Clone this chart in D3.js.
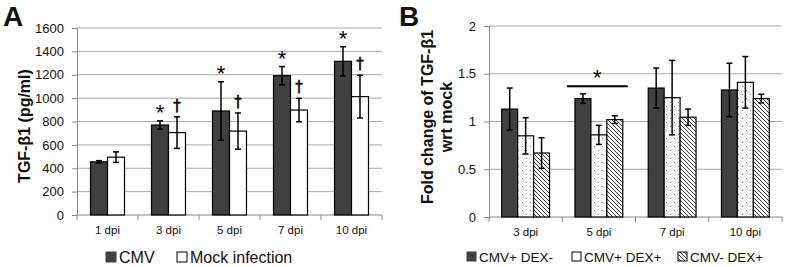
<!DOCTYPE html>
<html lang="en">
<head>
<meta charset="utf-8">
<title>TGF-b1 panels</title>
<script src="https://cdn.jsdelivr.net/npm/d3@7"></script>
<style>
  body { margin: 0; background: #fff; }
  svg text { font-family: "Liberation Sans", Arial, sans-serif; fill: #111; }
</style>
</head>
<body>
<script>
// ---- data, panel A (pg/ml) ----
var daysA = ["1 dpi", "3 dpi", "5 dpi", "7 dpi", "10 dpi"];
var seriesA = ["CMV", "Mock infection"];
var cmvA = [455, 770, 890, 1192, 1315];
var cmvErrA = [10, 35, 250, 78, 125];
var mockA = [495, 705, 718, 898, 1013];
var mockErrA = [45, 135, 155, 100, 183];
var markA = [["", ""], ["*", "†"], ["*", "†"], ["*", "†"], ["*", "†"]];
var ticksA = [0, 200, 400, 600, 800, 1000, 1200, 1400, 1600];

// ---- data, panel B (fold change) ----
var daysB = ["3 dpi", "5 dpi", "7 dpi", "10 dpi"];
var seriesB = ["CMV+ DEX-", "CMV+ DEX+", "CMV- DEX+"];
var cmvNoDexB = [1.13, 1.24, 1.35, 1.33];
var cmvNoDexErrB = [0.22, 0.05, 0.21, 0.28];
var cmvDexB = [0.85, 0.86, 1.25, 1.41];
var cmvDexErrB = [0.19, 0.10, 0.39, 0.27];
var mockDexB = [0.67, 1.02, 1.045, 1.24];
var mockDexErrB = [0.16, 0.04, 0.085, 0.045];
var ticksB = [0, 0.5, 1, 1.5, 2];

var w = 787, h = 267;
var svg = d3.select("body").append("svg").attr("width", w).attr("height", h);

// patterns
var defs = svg.append("defs");
var dots = defs.append("pattern").attr("id", "dots")
  .attr("patternUnits", "userSpaceOnUse").attr("width", 8).attr("height", 8);
dots.append("rect").attr("width", 8).attr("height", 8).attr("fill", "#fff");
dots.append("rect").attr("x", 2).attr("y", 2).attr("width", 1).attr("height", 1).attr("fill", "#777");
dots.append("rect").attr("x", 6).attr("y", 6).attr("width", 1).attr("height", 1).attr("fill", "#777");
var hatch = defs.append("pattern").attr("id", "hatch")
  .attr("patternUnits", "userSpaceOnUse").attr("width", 4).attr("height", 4);
hatch.append("rect").attr("width", 4).attr("height", 4).attr("fill", "#fff");
hatch.append("path").attr("d", "M-1,-1 L5,5 M-1,3 L1,5 M3,-1 L5,1")
  .attr("stroke", "#222").attr("stroke-width", 0.9);

var dark = "#404040";

function panel(opt) {
  var g = svg.append("g");
  var x = d3.scaleBand().domain(opt.days).range([opt.left, opt.right])
    .paddingInner(opt.pad).paddingOuter(opt.pad / 2);
  var xs = d3.scaleBand().domain(d3.range(opt.series.length)).range([0, x.bandwidth()]);
  var y = d3.scaleLinear().domain(opt.domain).range([opt.bottom, opt.top]);

  // grid
  g.selectAll(".grid").data(opt.ticks.slice(1)).enter().append("line")
    .attr("x1", opt.left).attr("x2", opt.right)
    .attr("y1", function(d) { return y(d); }).attr("y2", function(d) { return y(d); })
    .attr("stroke", "#a8a8a8").attr("stroke-width", 1);

  // y axis
  var yAxis = d3.axisLeft(y).tickValues(opt.ticks).tickSize(5).tickPadding(8).tickFormat(opt.fmt);
  var ya = g.append("g").attr("transform", "translate(" + opt.left + ",0)").call(yAxis);
  ya.selectAll("path, line").attr("stroke", "#888");
  ya.selectAll("text").style("font-size", "13px").style("font-family", "Liberation Sans, Arial, sans-serif").attr("fill", "#111");

  // x axis line and boundary ticks
  g.append("line").attr("x1", opt.left).attr("x2", opt.right)
    .attr("y1", opt.bottom).attr("y2", opt.bottom).attr("stroke", "#888");
  var step = x.step();
  var bounds = opt.days.map(function(d) { return x(d) - step * opt.pad / 2; });
  bounds.push(opt.right);
  g.selectAll(".xt").data(bounds).enter().append("line")
    .attr("x1", function(d) { return d; }).attr("x2", function(d) { return d; })
    .attr("y1", opt.bottom).attr("y2", opt.bottom + 5).attr("stroke", "#888");
  g.selectAll(".xl").data(opt.days).enter().append("text")
    .attr("x", function(d) { return x(d) + x.bandwidth() / 2; })
    .attr("y", opt.bottom + 19)
    .attr("text-anchor", "middle").style("font-size", "11.5px")
    .text(function(d) { return d; });

  // bars
  opt.values.forEach(function(vals, s) {
    g.selectAll(".bar" + s).data(opt.days).enter().append("rect")
      .attr("x", function(d) { return x(d) + xs(s); })
      .attr("y", function(d, i) { return y(vals[i]); })
      .attr("width", xs.bandwidth())
      .attr("height", function(d, i) { return opt.bottom - y(vals[i]); })
      .attr("fill", opt.fills[s]).attr("stroke", "#000").attr("stroke-width", 1.2);
  });

  // error bars
  opt.values.forEach(function(vals, s) {
    var errs = opt.errs[s];
    opt.days.forEach(function(d, i) {
      var cx = x(d) + xs(s) + xs.bandwidth() / 2;
      var hi = y(vals[i] + errs[i]), lo = y(vals[i] - errs[i]);
      g.append("line").attr("x1", cx).attr("x2", cx).attr("y1", hi).attr("y2", lo)
        .attr("stroke", "#000").attr("stroke-width", 1.5);
      [hi, lo].forEach(function(yy) {
        g.append("line").attr("x1", cx - 3).attr("x2", cx + 3).attr("y1", yy).attr("y2", yy)
          .attr("stroke", "#000").attr("stroke-width", 1.5);
      });
      if (opt.marks) {
        var m = opt.marks[i][s];
        if (m === "*") {
          g.append("text").attr("x", cx).attr("y", hi - 1).attr("text-anchor", "middle")
            .style("font-size", "22px").style("fill", "#000").text(m);
        } else if (m) {
          // stroked so it is drawn as a path, not subpixel text
          g.append("text").attr("x", cx).attr("y", hi - 6).attr("text-anchor", "middle")
            .style("font-family", "DejaVu Sans, sans-serif").style("font-size", "15px")
            .style("fill", "#000").style("stroke", "#000").style("stroke-width", "0.5px").text(m);
        }
      }
    });
  });

  // y title
  var tx = g.append("text").attr("transform", "translate(" + opt.titleX + "," + opt.titleY + ") rotate(-90)")
    .attr("text-anchor", "middle").style("font-size", "16px").style("font-weight", "bold");
  opt.title.forEach(function(t, k) {
    tx.append("tspan").attr("x", 0).attr("dy", k === 0 ? 0 : 19).text(t);
  });

  // panel letter
  g.append("text").attr("x", opt.letterX).attr("y", 26).style("font-size", "28px")
    .style("font-weight", "bold").text(opt.letter);

  // legend
  var lg = g.append("g");
  opt.series.forEach(function(sname, s) {
    var lx = opt.legendX[s];
    lg.append("rect").attr("x", lx).attr("y", opt.legendY - opt.box - 1)
      .attr("width", opt.box).attr("height", opt.box)
      .attr("fill", opt.legendFills[s]).attr("stroke", s === 0 ? dark : "#000").attr("stroke-width", 1);
    lg.append("text").attr("x", lx + opt.box + 3).attr("y", opt.legendY)
      .style("font-size", opt.legendFont).text(sname);
  });
  return { g: g, x: x, y: y };
}

panel({
  days: daysA, series: seriesA, values: [cmvA, mockA], errs: [cmvErrA, mockErrA],
  marks: markA, fills: [dark, "#fff"], legendFills: [dark, "#fff"],
  left: 77, right: 382, top: 28, bottom: 215, pad: 0.443,
  domain: [0, 1600], ticks: ticksA, fmt: d3.format("d"),
  title: ["TGF-β1 (pg/ml)"], titleX: 30, titleY: 126,
  letter: "A", letterX: 3,
  legendX: [106, 177], legendY: 263, box: 10, legendFont: "16px"
});

var pB = panel({
  days: daysB, series: seriesB, values: [cmvNoDexB, cmvDexB, mockDexB],
  errs: [cmvNoDexErrB, cmvDexErrB, mockDexErrB],
  marks: null, fills: [dark, "url(#dots)", "url(#hatch)"], legendFills: [dark, "#fff", "url(#hatch)"],
  left: 489, right: 782, top: 26, bottom: 217, pad: 0.347,
  domain: [0, 2], ticks: ticksB, fmt: function(d) { return d; },
  title: ["Fold change of TGF-β1", "wrt mock"], titleX: 433, titleY: 117,
  letter: "B", letterX: 399,
  legendX: [467, 572, 678], legendY: 262, box: 9, legendFont: "13.5px"
});

// significance bar over 5 dpi
var sigX0 = pB.x("5 dpi") - 8, sigX1 = pB.x("5 dpi") + pB.x.bandwidth() + 5;
pB.g.append("line").attr("x1", sigX0).attr("x2", sigX1)
  .attr("y1", pB.y(1.37)).attr("y2", pB.y(1.37)).attr("stroke", "#000").attr("stroke-width", 2);
pB.g.append("text").attr("x", (sigX0 + sigX1) / 2).attr("y", pB.y(1.37) - 1)
  .attr("text-anchor", "middle").style("font-size", "22px").style("fill", "#000").text("*");
</script>
</body>
</html>
